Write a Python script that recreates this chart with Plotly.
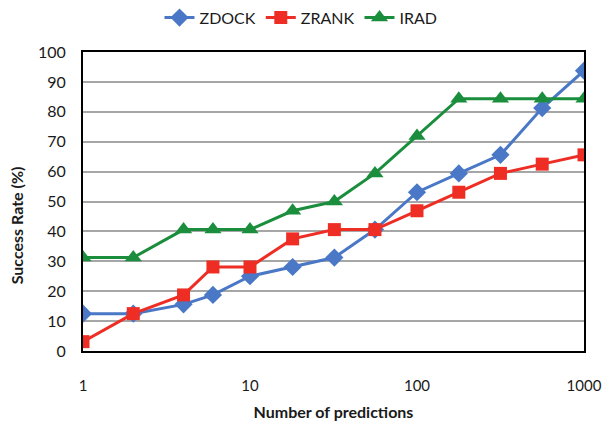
import plotly.graph_objects as go

# Number of predictions considered (log scale)
predictions = [1, 2, 4, 6, 10, 18, 32, 56, 100, 178, 316, 562, 1000]

# Success rates (%) per method
zdock = [12.5, 12.5, 15.6, 18.75, 25.0, 28.1, 31.25, 40.6, 53.1, 59.4, 65.6, 81.25, 93.75]
zrank = [3.125, 12.5, 18.75, 28.1, 28.1, 37.5, 40.6, 40.6, 46.9, 53.1, 59.4, 62.5, 65.6]
irad = [31.25, 31.25, 40.6, 40.6, 40.6, 46.9, 50.0, 59.4, 71.9, 84.4, 84.4, 84.4, 84.4]

x_tick_vals = [1, 10, 100, 1000]
x_tick_text = ["1", "10", "100", "1000"]
y_tick_vals = list(range(0, 101, 10))

FONT = "Lato, Open Sans, sans-serif"
BLUE = "#4A78C6"
RED = "#EE2E24"
GREEN = "#1B8E3D"

fig = go.Figure()
fig.add_trace(go.Scatter(
    x=predictions, y=zdock, name="ZDOCK", mode="lines+markers",
    line=dict(color=BLUE, width=3),
    marker=dict(symbol="diamond", size=14, color=BLUE),
))
fig.add_trace(go.Scatter(
    x=predictions, y=zrank, name="ZRANK", mode="lines+markers",
    line=dict(color=RED, width=3),
    marker=dict(symbol="square", size=13, color=RED),
))
fig.add_trace(go.Scatter(
    x=predictions, y=irad, name="IRAD", mode="lines+markers",
    line=dict(color=GREEN, width=3),
    marker=dict(symbol="triangle-up", size=15, color=GREEN),
))

fig.update_layout(
    width=602, height=421,
    margin=dict(l=83, r=18, t=52, b=70),
    paper_bgcolor="white", plot_bgcolor="white",
    font=dict(family=FONT, size=15, color="#1a1a1a"),
    showlegend=True,
    legend=dict(
        orientation="h", x=0.5, xanchor="center", xref="container",
        y=0.958, yanchor="middle", yref="container",
        font=dict(size=16), itemwidth=30,
        traceorder="normal",
    ),
    xaxis=dict(
        type="log", range=[0, 3], automargin=False,
        tickvals=x_tick_vals, ticktext=x_tick_text,
        showgrid=False, zeroline=False,
        showline=True, linecolor="black", linewidth=2, mirror=True,
        ticks="", ticklabelstandoff=20,
        tickfont=dict(size=15),
        title=dict(text="<b>Number of predictions</b>", font=dict(size=16), standoff=18),
    ),
    yaxis=dict(
        range=[0, 100], tickvals=y_tick_vals, automargin=False,
        showgrid=True, gridcolor="#A6A6A6", gridwidth=1.5, zeroline=False,
        showline=True, linecolor="black", linewidth=2, mirror=True,
        ticks="", ticklabelstandoff=12,
        tickfont=dict(size=16),
    ),
    annotations=[dict(
        text="<b>Success Rate (%)</b>", textangle=-90,
        xref="paper", yref="paper", x=-0.132, y=0.42,
        xanchor="center", yanchor="middle", showarrow=False,
        font=dict(size=16),
    )],
)

fig.write_html("out.html")
